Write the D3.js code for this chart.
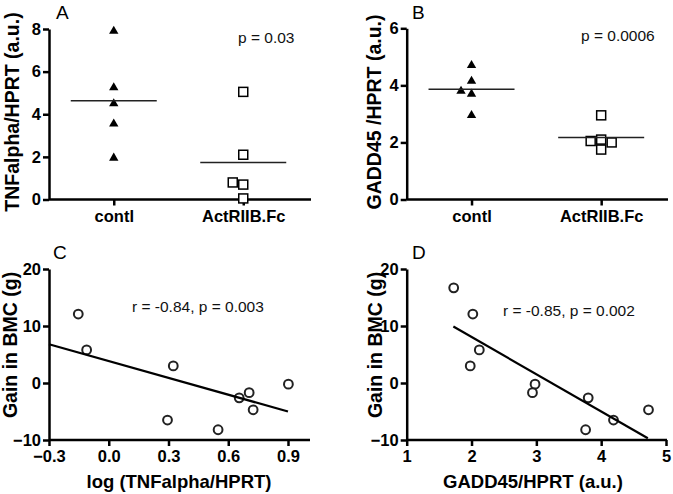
<!DOCTYPE html>
<html><head><meta charset="utf-8">
<script src="https://cdn.jsdelivr.net/npm/d3@7"></script>
<style>
body{margin:0;background:#fff;}
svg text{font-family:"Liberation Sans",Arial,sans-serif;}
</style></head>
<body><svg id="c" width="673" height="494"></svg>
<script>
// ---------- data ----------
const groups = ["contl", "ActRIIB.Fc"];
// Panel A: TNFalpha/HPRT
const tnfContl = [7.9, 5.25, 4.5, 3.55, 1.95];
const tnfActr  = [5.05, 2.1, 0.8, 0.7, 0.05];
const tnfActrDodge = [0, 0, -1, 0, 0];
const tnfContlDodge = [0, 0, 0, 0, 0];
// Panel B: GADD45/HPRT
const gaddContl = [4.7, 4.15, 3.8, 3.7, 2.95];
const gaddContlDodge = [0, 0, -1, 0, 0];
const gaddActr  = [2.95, 2.1, 2.05, 2.0, 1.75];
const gaddActrDodge = [0, 0, -1, 1, 0];
const pA = "p = 0.03", pB = "p = 0.0006";
// Panel C: log(TNFalpha/HPRT) vs gain in BMC
const logTnf = [-0.153, -0.111, 0.324, 0.295, 0.549, 0.655, 0.705, 0.725, 0.902];
const bmcC   = [12.1, 5.8, 3.0, -6.5, -8.2, -2.6, -1.7, -4.7, -0.2];
const fitC = {x: [-0.3, 0.9], y: [6.8, -5.0]};
const statC = "r = -0.84, p = 0.003";
// Panel D: GADD45/HPRT vs gain in BMC
const gadd = [1.725, 2.02, 2.12, 1.98, 2.98, 2.94, 3.80, 3.76, 4.19, 4.73];
const bmcD = [16.7, 12.1, 5.8, 3.0, -0.2, -1.7, -2.6, -8.2, -6.5, -4.7];
const fitD = {x: [1.72, 4.72], y: [9.9, -9.7]};
const statD = "r = -0.85, p = 0.002";
const ticksA = [0, 2, 4, 6, 8];
const ticksB = [0, 2, 4, 6];
const ticksCy = [-10, 0, 10, 20];
const ticksCx = [-0.3, 0.0, 0.3, 0.6, 0.9];
const ticksDx = [1, 2, 3, 4, 5];

// ---------- drawing ----------
const svg = d3.select("#c");
const tickFont = 16.5, yTitleFont = 19.5, xTitleFont = 18.5, noteFont = 15.5;

function styleAxis(g){
  g.selectAll("path.domain").attr("stroke","#000").attr("stroke-width",2.5);
  g.selectAll(".tick line").attr("stroke","#000").attr("stroke-width",2.5);
  g.selectAll(".tick text").attr("font-size",tickFont).attr("font-weight","bold")
   .attr("font-family","Liberation Sans, Arial, sans-serif").attr("fill","#000");
}

function yTitle(x, yc, txt){
  svg.append("text").attr("transform",`translate(${x},${yc}) rotate(-90)`)
    .attr("text-anchor","middle").attr("font-size",yTitleFont).attr("font-weight","bold").text(txt);
}
function letter(x,y,t){
  svg.append("text").attr("x",x).attr("y",y).attr("font-size",19).text(t);
}

function categoryPanel(opts){
  const x = d3.scalePoint().domain(groups).range([opts.left, opts.right]).padding(0.5);
  const y = d3.scaleLinear().domain([0, opts.ymax]).range([opts.bottom, opts.top]);
  const gx = svg.append("g").attr("transform",`translate(0,${opts.bottom})`)
    .call(d3.axisBottom(x).tickSize(6).tickSizeOuter(0).tickPadding(5));
  styleAxis(gx);
  gx.select("path.domain").attr("d",`M${opts.left},0H${opts.axEnd}`);
  const gy = svg.append("g").attr("transform",`translate(${opts.left},0)`)
    .call(d3.axisLeft(y).tickValues(opts.ticks).tickFormat(d3.format("d")).tickSize(6).tickSizeOuter(0).tickPadding(2));
  styleAxis(gy);
  const dx = 10.5;
  const tri = d3.symbol().type(d3.symbolTriangle).size(38);
  svg.append("g").selectAll("path").data(opts.c).join("path")
    .attr("d",tri).attr("fill","#000")
    .attr("transform",(d,i)=>`translate(${x(groups[0])+opts.cd[i]*dx},${y(d)})`);
  const s = 9;
  svg.append("g").selectAll("rect").data(opts.a).join("rect")
    .attr("x",(d,i)=>x(groups[1])+opts.ad[i]*dx - s/2).attr("y",d=>y(d)-s/2)
    .attr("width",s).attr("height",s).attr("fill","#fff").attr("stroke","#000").attr("stroke-width",1.5);
  const mw = 43;
  [opts.c, opts.a].forEach((arr,k)=>{
    const m = d3.mean(arr), cx = x(groups[k]);
    svg.append("line").attr("x1",cx-mw).attr("x2",cx+mw).attr("y1",y(m)).attr("y2",y(m))
      .attr("stroke","#222").attr("stroke-width",1.5);
  });
  svg.append("text").attr("x",opts.px).attr("y",opts.py).attr("font-size",noteFont).attr("fill","#111").text(opts.p);
}

function scatterPanel(opts){
  const x = d3.scaleLinear().domain(opts.xd).range([opts.left, opts.right]);
  const y = d3.scaleLinear().domain([-10, 20]).range([440, 269]);
  const gx = svg.append("g").attr("transform",`translate(0,440)`)
    .call(d3.axisBottom(x).tickValues(opts.xt).tickFormat(opts.fmt).tickSize(6).tickSizeOuter(0).tickPadding(4));
  styleAxis(gx);
  gx.select("path.domain").attr("d",`M${opts.left},0H${opts.axEnd}`);
  const gy = svg.append("g").attr("transform",`translate(${opts.left},0)`)
    .call(d3.axisLeft(y).tickValues(ticksCy).tickFormat(d3.format("d")).tickSize(6).tickSizeOuter(0).tickPadding(2));
  styleAxis(gy);
  svg.append("g").selectAll("circle").data(opts.xs).join("circle")
    .attr("cx",d=>x(d)).attr("cy",(d,i)=>y(opts.ys[i])).attr("r",4.4)
    .attr("fill","#fff").attr("stroke","#222").attr("stroke-width",2);
  svg.append("line").attr("x1",x(opts.fit.x[0])).attr("x2",x(opts.fit.x[1]))
    .attr("y1",y(opts.fit.y[0])).attr("y2",y(opts.fit.y[1])).attr("stroke","#000").attr("stroke-width",2.2);
  svg.append("text").attr("x",opts.sx).attr("y",opts.sy).attr("font-size",noteFont).attr("fill","#111").text(opts.stat);
}

categoryPanel({left:49, right:308, axEnd:311, top:29, bottom:199.5, ymax:8, ticks:ticksA,
  c:tnfContl, cd:tnfContlDodge, a:tnfActr, ad:tnfActrDodge, p:pA, px:238, py:43});
categoryPanel({left:406.7, right:666, axEnd:668, top:28.3, bottom:199.5, ymax:6, ticks:ticksB,
  c:gaddContl, cd:gaddContlDodge, a:gaddActr, ad:gaddActrDodge, p:pB, px:581, py:41});
scatterPanel({left:49, right:288, xd:[-0.3,0.9], xt:ticksCx, fmt:d3.format(".1f"), axEnd:310,
  xs:logTnf, ys:bmcC, fit:fitC, stat:statC, sx:132, sy:312});
scatterPanel({left:406.7, right:666, xd:[1,5], xt:ticksDx, fmt:d3.format("d"), axEnd:667,
  xs:gadd, ys:bmcD, fit:fitD, stat:statD, sx:503, sy:316});

yTitle(19, 112, "TNFalpha/HPRT (a.u.)");
yTitle(381, 112, "GADD45 /HPRT (a.u.)");
yTitle(17, 345, "Gain in BMC (g)");
yTitle(382, 345, "Gain in BMC (g)");
svg.append("text").attr("x",179).attr("y",488).attr("text-anchor","middle").attr("font-size",xTitleFont).attr("font-weight","bold").text("log (TNFalpha/HPRT)");
svg.append("text").attr("x",533).attr("y",488).attr("text-anchor","middle").attr("font-size",xTitleFont).attr("font-weight","bold").text("GADD45/HPRT (a.u.)");
letter(56, 19, "A"); letter(412, 19, "B"); letter(53, 259, "C"); letter(412, 259, "D");
</script></body></html>
